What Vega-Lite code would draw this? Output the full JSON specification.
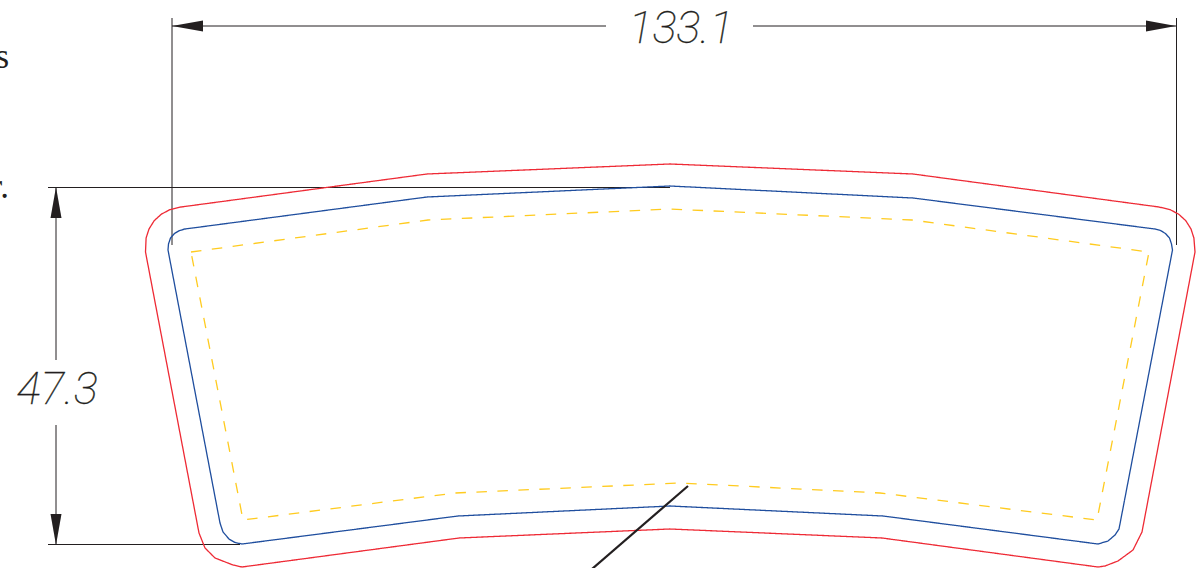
{"$schema":"https://vega.github.io/schema/vega-lite/v6.json","width":1200,"height":568,"autosize":{"type":"none"},"padding":0,"background":"white","view":{"stroke":null},
"datasets":{
"outlines":[
{"s":"red","i":0,"x":145.5,"y":252},{"s":"red","i":1,"x":146.1,"y":238},{"s":"red","i":2,"x":149,"y":229},{"s":"red","i":3,"x":154.2,"y":220.7},{"s":"red","i":4,"x":161.3,"y":214.2},{"s":"red","i":5,"x":169.8,"y":209.7},{"s":"red","i":6,"x":181,"y":207},{"s":"red","i":7,"x":427,"y":174},{"s":"red","i":8,"x":670,"y":164},{"s":"red","i":9,"x":913,"y":174},{"s":"red","i":10,"x":1159,"y":207},{"s":"red","i":11,"x":1170.2,"y":209.7},{"s":"red","i":12,"x":1178.7,"y":214.2},{"s":"red","i":13,"x":1185.8,"y":220.7},{"s":"red","i":14,"x":1191,"y":229},{"s":"red","i":15,"x":1193.9,"y":238},{"s":"red","i":16,"x":1195,"y":252},{"s":"red","i":17,"x":1142,"y":532},{"s":"red","i":18,"x":1133,"y":550},{"s":"red","i":19,"x":1118,"y":561},{"s":"red","i":20,"x":1105,"y":566},{"s":"red","i":21,"x":1098,"y":567},{"s":"red","i":22,"x":882,"y":538},{"s":"red","i":23,"x":670,"y":529},{"s":"red","i":24,"x":459,"y":538},{"s":"red","i":25,"x":242,"y":567},{"s":"red","i":26,"x":233,"y":565},{"s":"red","i":27,"x":215,"y":558},{"s":"red","i":28,"x":205,"y":548},{"s":"red","i":29,"x":199,"y":533},{"s":"red","i":30,"x":145.5,"y":252},
{"s":"blue","i":0,"x":168,"y":250},{"s":"blue","i":1,"x":168.5,"y":244},{"s":"blue","i":2,"x":170.5,"y":238},{"s":"blue","i":3,"x":174.5,"y":233.5},{"s":"blue","i":4,"x":179.5,"y":230.5},{"s":"blue","i":5,"x":185,"y":229},{"s":"blue","i":6,"x":427,"y":197},{"s":"blue","i":7,"x":670,"y":186},{"s":"blue","i":8,"x":913,"y":198},{"s":"blue","i":9,"x":1155,"y":229},{"s":"blue","i":10,"x":1160.5,"y":230.5},{"s":"blue","i":11,"x":1165.5,"y":233.5},{"s":"blue","i":12,"x":1169.5,"y":238},{"s":"blue","i":13,"x":1171.5,"y":244},{"s":"blue","i":14,"x":1172.5,"y":250},{"s":"blue","i":15,"x":1119,"y":529},{"s":"blue","i":16,"x":1115,"y":535},{"s":"blue","i":17,"x":1108,"y":541},{"s":"blue","i":18,"x":1098,"y":544},{"s":"blue","i":19,"x":883,"y":516},{"s":"blue","i":20,"x":670,"y":506},{"s":"blue","i":21,"x":458,"y":516},{"s":"blue","i":22,"x":242,"y":544},{"s":"blue","i":23,"x":235,"y":542.5},{"s":"blue","i":24,"x":229,"y":539},{"s":"blue","i":25,"x":223,"y":532},{"s":"blue","i":26,"x":220,"y":523},{"s":"blue","i":27,"x":168,"y":250},
{"s":"yellow","i":0,"x":191,"y":252},{"s":"yellow","i":1,"x":428,"y":220},{"s":"yellow","i":2,"x":670,"y":209},{"s":"yellow","i":3,"x":912,"y":220},{"s":"yellow","i":4,"x":1149,"y":252},{"s":"yellow","i":5,"x":1097,"y":520},{"s":"yellow","i":6,"x":880,"y":493},{"s":"yellow","i":7,"x":680,"y":483},{"s":"yellow","i":8,"x":455,"y":493},{"s":"yellow","i":9,"x":243,"y":520},{"s":"yellow","i":10,"x":191,"y":252}],
"dims":[
{"x":172,"y":18,"x2":172,"y2":245},{"x":1176.5,"y":18,"x2":1176.5,"y2":245},{"x":172,"y":26,"x2":606,"y2":26},{"x":753,"y":26,"x2":1176,"y2":26},{"x":48,"y":187.5,"x2":670,"y2":187.5},{"x":48,"y":544.5,"x2":240,"y2":544.5},{"x":56,"y":187,"x2":56,"y2":360},{"x":56,"y":425,"x2":56,"y2":545}],
"needle":[{"x":688,"y":486,"x2":592,"y2":569}],
"harrows":[
{"a":"l","x":172,"y":26,"y2":26},{"a":"l","x":203,"y":20.5,"y2":31.5},
{"a":"r","x":1146,"y":20.5,"y2":31.5},{"a":"r","x":1176,"y":26,"y2":26}],
"varrows":[
{"a":"u","y":187,"x":56,"x2":56},{"a":"u","y":218,"x":50.5,"x2":61.5},
{"a":"d","y":514,"x":50.5,"x2":61.5},{"a":"d","y":545,"x":56,"x2":56}],
"dimlabels":[{"x":681,"y":43,"t":"133.1"},{"x":57,"y":404,"t":"47.3"}],
"cut":[{"x":9,"y":68,"t":"s"},{"x":9,"y":198,"t":"r."}]
},
"layer":[
{"data":{"name":"dims"},"mark":{"type":"rule","stroke":"#231f20","strokeWidth":1},"encoding":{"x":{"field":"x","type":"quantitative","scale":{"domain":[0,1200],"nice":false,"zero":false},"axis":null},"y":{"field":"y","type":"quantitative","scale":{"domain":[568,0],"nice":false,"zero":false},"axis":null},"x2":{"field":"x2"},"y2":{"field":"y2"}}},
{"data":{"name":"outlines"},"mark":{"type":"line","strokeWidth":1.3,"interpolate":"linear","clip":true},"encoding":{"x":{"field":"x","type":"quantitative","axis":null},"y":{"field":"y","type":"quantitative","axis":null},"order":{"field":"i"},"color":{"field":"s","type":"nominal","legend":null,"scale":{"domain":["red","blue","yellow"],"range":["#ee2a35","#1f4e9e","#ffcb1f"]}},"strokeDash":{"field":"s","type":"nominal","legend":null,"scale":{"domain":["red","blue","yellow"],"range":[[1,0],[1,0],[10.5,10.5]]}}}},
{"data":{"name":"needle"},"mark":{"type":"rule","stroke":"#231f20","strokeWidth":2.2},"encoding":{"x":{"field":"x","type":"quantitative","axis":null},"y":{"field":"y","type":"quantitative","axis":null},"x2":{"field":"x2"},"y2":{"field":"y2"}}},
{"data":{"name":"harrows"},"mark":{"type":"area","color":"#231f20","orient":"vertical"},"encoding":{"x":{"field":"x","type":"quantitative","axis":null},"y":{"field":"y","type":"quantitative","axis":null},"y2":{"field":"y2"},"detail":{"field":"a"}}},
{"data":{"name":"varrows"},"mark":{"type":"area","color":"#231f20","orient":"horizontal"},"encoding":{"y":{"field":"y","type":"quantitative","axis":null},"x":{"field":"x","type":"quantitative","axis":null},"x2":{"field":"x2"},"detail":{"field":"a"}}},
{"data":{"name":"dimlabels"},"mark":{"type":"text","font":"Roboto","fontWeight":100,"fontStyle":"italic","fontSize":45,"align":"center","baseline":"alphabetic","color":"#231f20","stroke":"#231f20","strokeWidth":0.35},"encoding":{"x":{"field":"x","type":"quantitative","axis":null},"y":{"field":"y","type":"quantitative","axis":null},"text":{"field":"t"}}},
{"data":{"name":"cut"},"mark":{"type":"text","font":"Liberation Serif","fontSize":35,"align":"right","baseline":"alphabetic","color":"#231f20"},"encoding":{"x":{"field":"x","type":"quantitative","axis":null},"y":{"field":"y","type":"quantitative","axis":null},"text":{"field":"t"}}}
]}
